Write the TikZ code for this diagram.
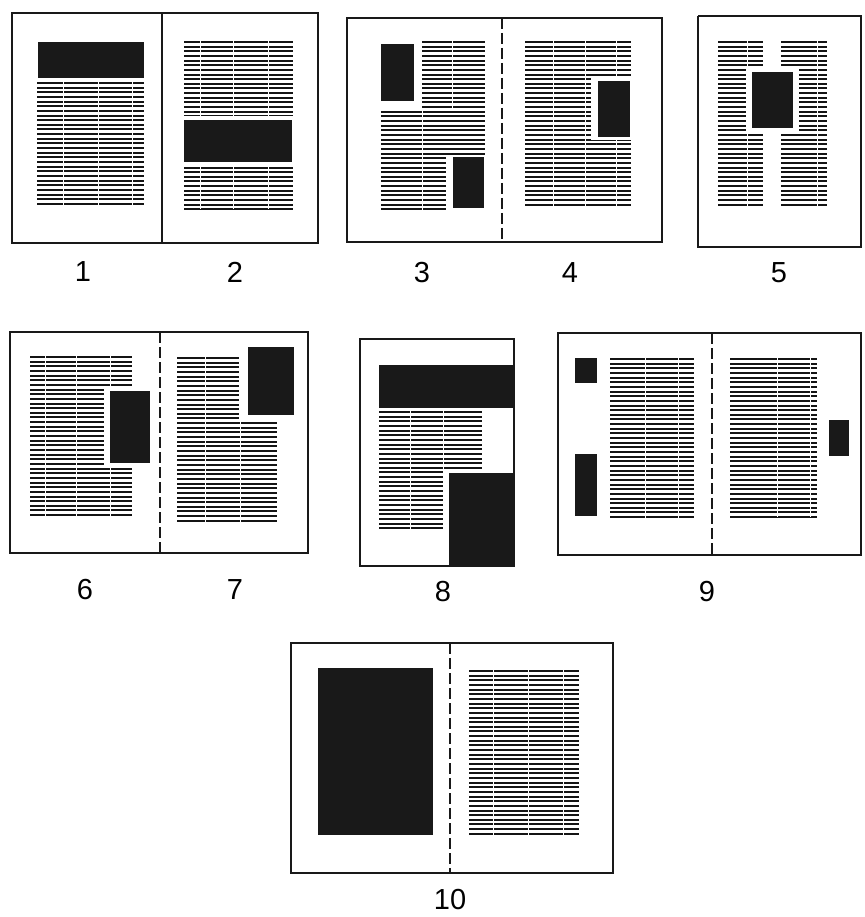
\documentclass[tikz,border=0pt]{standalone}
\usepackage{fontspec}
\setmainfont{Liberation Sans}
\newcommand\tlines[5]{% x1 y1 x2 y2 spacing
  \pgfmathtruncatemacro\nLinesX{round((#4-#2)/#5)}%
  \foreach \i in {0,...,\nLinesX}{%
    \draw[txtline] (#1,{#2+\i*#5}) -- (#3,{#2+\i*#5});
  }%
}
\newcommand\cbreak[3]{\draw[colgap] (#1,#2-1.5) -- (#1,#3+1.5);}
\tikzset{
  txtline/.style={line width=2pt, black!92},
  colgap/.style={line width=0.7pt, white},
  frame/.style={line width=2.4pt, black!90},
  gutter/.style={line width=2.2pt, black!90, dash pattern=on 11pt off 4pt},
  gutsolid/.style={line width=2.2pt, black!90},
  blk/.style={fill=black!90, draw=none},
  cover/.style={fill=white, draw=none},
  lbl/.style={font=\fontsize{29}{29}\selectfont, inner sep=0pt}
}
\begin{document}
\begin{tikzpicture}[x=1pt,y=-1pt]
\useasboundingbox (0,0) rectangle (864,917);
\fill[white] (0,0) rectangle (864,917);

% ---------- 1 / 2 ----------
\tlines{37}{83}{144}{204}{4.65}
\cbreak{63}{83}{204}\cbreak{98}{83}{204}\cbreak{132}{83}{204}
\fill[blk] (38,42) rectangle (144,78);
\tlines{184}{42}{293}{208}{4.65}
\cbreak{200}{42}{208}\cbreak{233}{42}{208}\cbreak{268}{42}{208}
\fill[cover] (182,116) rectangle (295,166);
\fill[blk] (184,120) rectangle (292,162);
\draw[frame] (12,13) rectangle (318,243);
\draw[gutsolid] (162,13) -- (162,243);
\node[lbl] (l1) at (83,272) {1};
\node[lbl] (l2) at (235,272) {2};

% ---------- 3 / 4 ----------
\tlines{381}{42}{485}{209}{4.65}
\cbreak{452}{42}{110}\cbreak{422}{110}{209}
\fill[cover] (378,39) rectangle (422,108);
\fill[blk] (381,44) rectangle (414,101);
\fill[cover] (446,155) rectangle (488,212);
\fill[blk] (453,157) rectangle (484,208);
\tlines{525}{42}{631}{207}{4.65}
\cbreak{553}{42}{207}\cbreak{585}{42}{207}\cbreak{616}{42}{207}
\fill[cover] (591,78) rectangle (634,140);
\fill[blk] (598,81) rectangle (630,137);
\draw[frame] (347,18) rectangle (662,242);
\draw[gutter] (502,18) -- (502,242);
\node[lbl] (l3) at (422,273) {3};
\node[lbl] (l4) at (570,273) {4};

% ---------- 5 ----------
\tlines{718}{42}{763}{206}{4.65}
\tlines{781}{42}{827}{206}{4.65}
\cbreak{747}{42}{206}\cbreak{817}{42}{206}
\fill[cover] (746,69) rectangle (799,132);
\fill[blk] (752,72) rectangle (793,128);
\draw[frame] (698,16) -- (862,16);
\draw[frame] (698,16) -- (698,247) -- (862,247);
\draw[frame] (861,16) -- (861,247);
\node[lbl] (l5) at (779,273) {5};

% ---------- 6 / 7 ----------
\tlines{30}{357}{132}{515}{4.65}
\cbreak{45}{357}{515}\cbreak{76}{357}{515}\cbreak{110}{357}{515}
\fill[cover] (104,388) rectangle (135,467);
\fill[blk] (110,391) rectangle (150,463);
\tlines{177}{358}{277}{522}{4.65}
\cbreak{205}{358}{522}\cbreak{240}{358}{522}
\fill[cover] (239,355) rectangle (280,420);
\fill[blk] (248,347) rectangle (294,415);
\draw[frame] (10,332) rectangle (308,553);
\draw[gutter] (160,332) -- (160,553);
\node[lbl] (l6) at (85,590) {6};
\node[lbl] (l7) at (235,590) {7};

% ---------- 8 ----------
\tlines{379}{412}{482}{530}{4.65}
\cbreak{410}{412}{530}\cbreak{443}{412}{530}
\fill[cover] (444,469) rectangle (486,533);
\fill[blk] (379,365) rectangle (514,408);
\fill[blk] (449,473) rectangle (514,566);
\draw[frame] (360,339) rectangle (514,566);
\node[lbl] (l8) at (443,592) {8};

% ---------- 9 ----------
\tlines{610}{359}{694}{517}{4.65}
\cbreak{645}{359}{517}\cbreak{678}{359}{517}
\tlines{730}{359}{817}{515}{4.65}
\cbreak{777}{359}{515}\cbreak{810}{359}{515}
\fill[blk] (575,358) rectangle (597,383);
\fill[blk] (575,454) rectangle (597,516);
\fill[blk] (829,420) rectangle (849,456);
\draw[frame] (862,333) -- (558,333) -- (558,555) -- (862,555);
\draw[frame] (861,333) -- (861,555);
\draw[gutter] (712,333) -- (712,555);
\node[lbl] (l9) at (707,592) {9};

% ---------- 10 ----------
\fill[blk] (318,668) rectangle (433,835);
\tlines{469}{671}{579}{834}{4.65}
\cbreak{493}{671}{834}\cbreak{528}{671}{834}\cbreak{563}{671}{834}
\draw[frame] (291,643) rectangle (613,873);
\draw[gutter] (450,643) -- (450,873);
\node[lbl] (l10) at (450,900) {10};
\end{tikzpicture}
\end{document}
